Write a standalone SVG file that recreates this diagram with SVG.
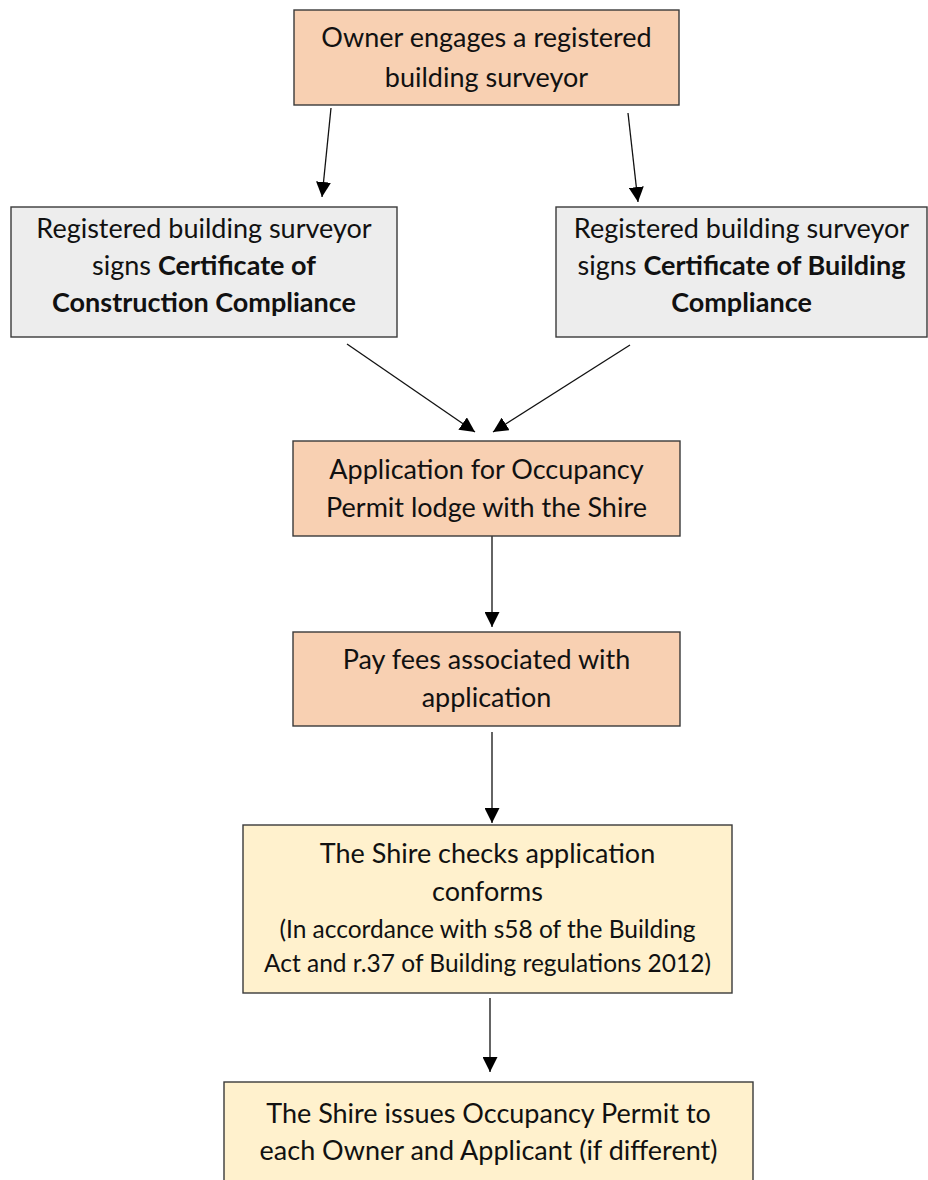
<svg xmlns="http://www.w3.org/2000/svg" width="928" height="1180" viewBox="0 0 928 1180">
<defs>
<style>
.box{stroke:#3a3a3a;stroke-width:1.4}
.o{fill:#F8D0B2}
.g{fill:#EDEDED}
.y{fill:#FFF1CD}
text{font-family:Lato,"Open Sans","Liberation Sans",sans-serif;fill:#111;text-anchor:middle}
.t{font-size:27px}
.s{font-size:24.5px}
.b{font-weight:bold}
.c{stroke:#111;stroke-width:1.3;fill:none;marker-end:url(#ah)}
</style>
<marker id="ah" viewBox="0 0 10 10" refX="10" refY="5" markerWidth="15" markerHeight="15" markerUnits="userSpaceOnUse" orient="auto">
<path d="M0,0 L10,5 L0,10 z" fill="#000"/>
</marker>
</defs>
<rect width="928" height="1180" fill="#fff"/>
<g id="connectors">
<line class="c" x1="331" y1="108" x2="322" y2="197"/>
<line class="c" x1="628" y1="113" x2="638" y2="202"/>
<line class="c" x1="347" y1="344" x2="475" y2="432"/>
<line class="c" x1="630" y1="345" x2="493" y2="432"/>
<line class="c" x1="492" y1="536" x2="492" y2="627"/>
<line class="c" x1="492" y1="732" x2="492" y2="823"/>
<line class="c" x1="490" y1="998" x2="490" y2="1072"/>
</g>
<g id="owner">
<rect class="box o" x="294" y="10" width="385" height="95"/>
<text class="t" x="486.5" y="47">Owner engages a registered</text>
<text class="t" x="486.5" y="87">building surveyor</text>
</g>
<g id="cert-construction">
<rect class="box g" x="11" y="207" width="386" height="130"/>
<text class="t" x="204" y="238">Registered building surveyor</text>
<text class="t" x="204" y="275">signs <tspan class="b">Certificate of</tspan></text>
<text class="t b" x="204" y="312">Construction Compliance</text>
</g>
<g id="cert-building">
<rect class="box g" x="556" y="207" width="371" height="130"/>
<text class="t" x="741.5" y="238">Registered building surveyor</text>
<text class="t" x="741.5" y="275">signs <tspan class="b">Certificate of Building</tspan></text>
<text class="t b" x="741.5" y="312">Compliance</text>
</g>
<g id="application">
<rect class="box o" x="293" y="441" width="387" height="95"/>
<text class="t" x="486.5" y="479">Application for Occupancy</text>
<text class="t" x="486.5" y="517">Permit lodge with the Shire</text>
</g>
<g id="fees">
<rect class="box o" x="293" y="632" width="387" height="94"/>
<text class="t" x="486.5" y="669">Pay fees associated with</text>
<text class="t" x="486.5" y="707">application</text>
</g>
<g id="checks">
<rect class="box y" x="243" y="825" width="489" height="168"/>
<text class="t" x="487.5" y="863">The Shire checks application</text>
<text class="t" x="487.5" y="901">conforms</text>
<text class="s" x="487.5" y="938">(In accordance with s58 of the Building</text>
<text class="s" x="487.5" y="972">Act and r.37 of Building regulations 2012)</text>
</g>
<g id="issues">
<rect class="box y" x="224" y="1082" width="529" height="120"/>
<text class="t" x="488.5" y="1123">The Shire issues Occupancy Permit to</text>
<text class="t" x="488.5" y="1160">each Owner and Applicant (if different)</text>
</g>
</svg>
